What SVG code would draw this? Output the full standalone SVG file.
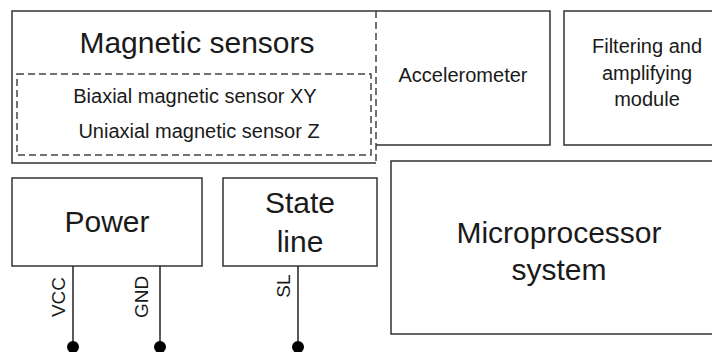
<svg xmlns="http://www.w3.org/2000/svg" width="712" height="352" viewBox="0 0 712 352">
  <style>
    .box { fill: none; stroke: #333; stroke-width: 1.5; }
    .dash { fill: none; stroke: #444; stroke-width: 1.5; stroke-dasharray: 7 4; }
    .wire { fill: none; stroke: #222; stroke-width: 1.5; }
    .pin { fill: #000; }
    text { font-family: "Liberation Sans", Arial, sans-serif; fill: #1a1a1a; text-anchor: middle; }
    .big { font-size: 30px; }
    .mid { font-size: 20px; }
    .pinlabel { font-size: 19px; }
  </style>
  <rect width="712" height="352" fill="#fff"/>

  <!-- Magnetic sensors block (right edge is a dashed boundary) -->
  <g id="magnetic-sensors">
    <path class="box" d="M376,11 H12 V163 H376"/>
    <line class="dash" x1="376" y1="11" x2="376" y2="163"/>
    <text class="big" x="197" y="53">Magnetic sensors</text>
    <g id="sensor-group">
      <rect class="dash" x="17" y="74" width="354" height="81"/>
      <text class="mid" x="195" y="103">Biaxial magnetic sensor XY</text>
      <text class="mid" x="199" y="138">Uniaxial magnetic sensor Z</text>
    </g>
  </g>

  <g id="accelerometer">
    <path class="box" d="M376,11 H550 V145 H376"/>
    <text class="mid" x="463" y="82">Accelerometer</text>
  </g>

  <g id="filtering-module">
    <path class="box" d="M714,11 H564 V145 H714"/>
    <text class="mid" x="647" y="53">Filtering and</text>
    <text class="mid" x="647" y="80">amplifying</text>
    <text class="mid" x="647" y="106">module</text>
  </g>

  <g id="microprocessor">
    <path class="box" d="M714,161 H391 V334 H714"/>
    <text class="big" x="559" y="243">Microprocessor</text>
    <text class="big" x="559" y="280">system</text>
  </g>

  <g id="power">
    <rect class="box" x="12" y="178" width="190" height="88"/>
    <text class="big" x="107" y="232">Power</text>
  </g>

  <g id="state-line">
    <rect class="box" x="223" y="178" width="154" height="88"/>
    <text class="big" x="300" y="213">State</text>
    <text class="big" x="300" y="252">line</text>
  </g>

  <!-- Output pins -->
  <g id="connectors">
    <line class="wire" x1="73" y1="266" x2="73" y2="347"/>
    <circle class="pin" cx="73" cy="347" r="6"/>
    <text class="pinlabel" transform="translate(65,297) rotate(-90)">VCC</text>

    <line class="wire" x1="160" y1="266" x2="160" y2="347"/>
    <circle class="pin" cx="160" cy="347" r="6"/>
    <text class="pinlabel" transform="translate(148,297) rotate(-90)">GND</text>

    <line class="wire" x1="298" y1="266" x2="298" y2="347"/>
    <circle class="pin" cx="298" cy="347" r="6"/>
    <text class="pinlabel" transform="translate(290,286) rotate(-90)">SL</text>
  </g>
</svg>
